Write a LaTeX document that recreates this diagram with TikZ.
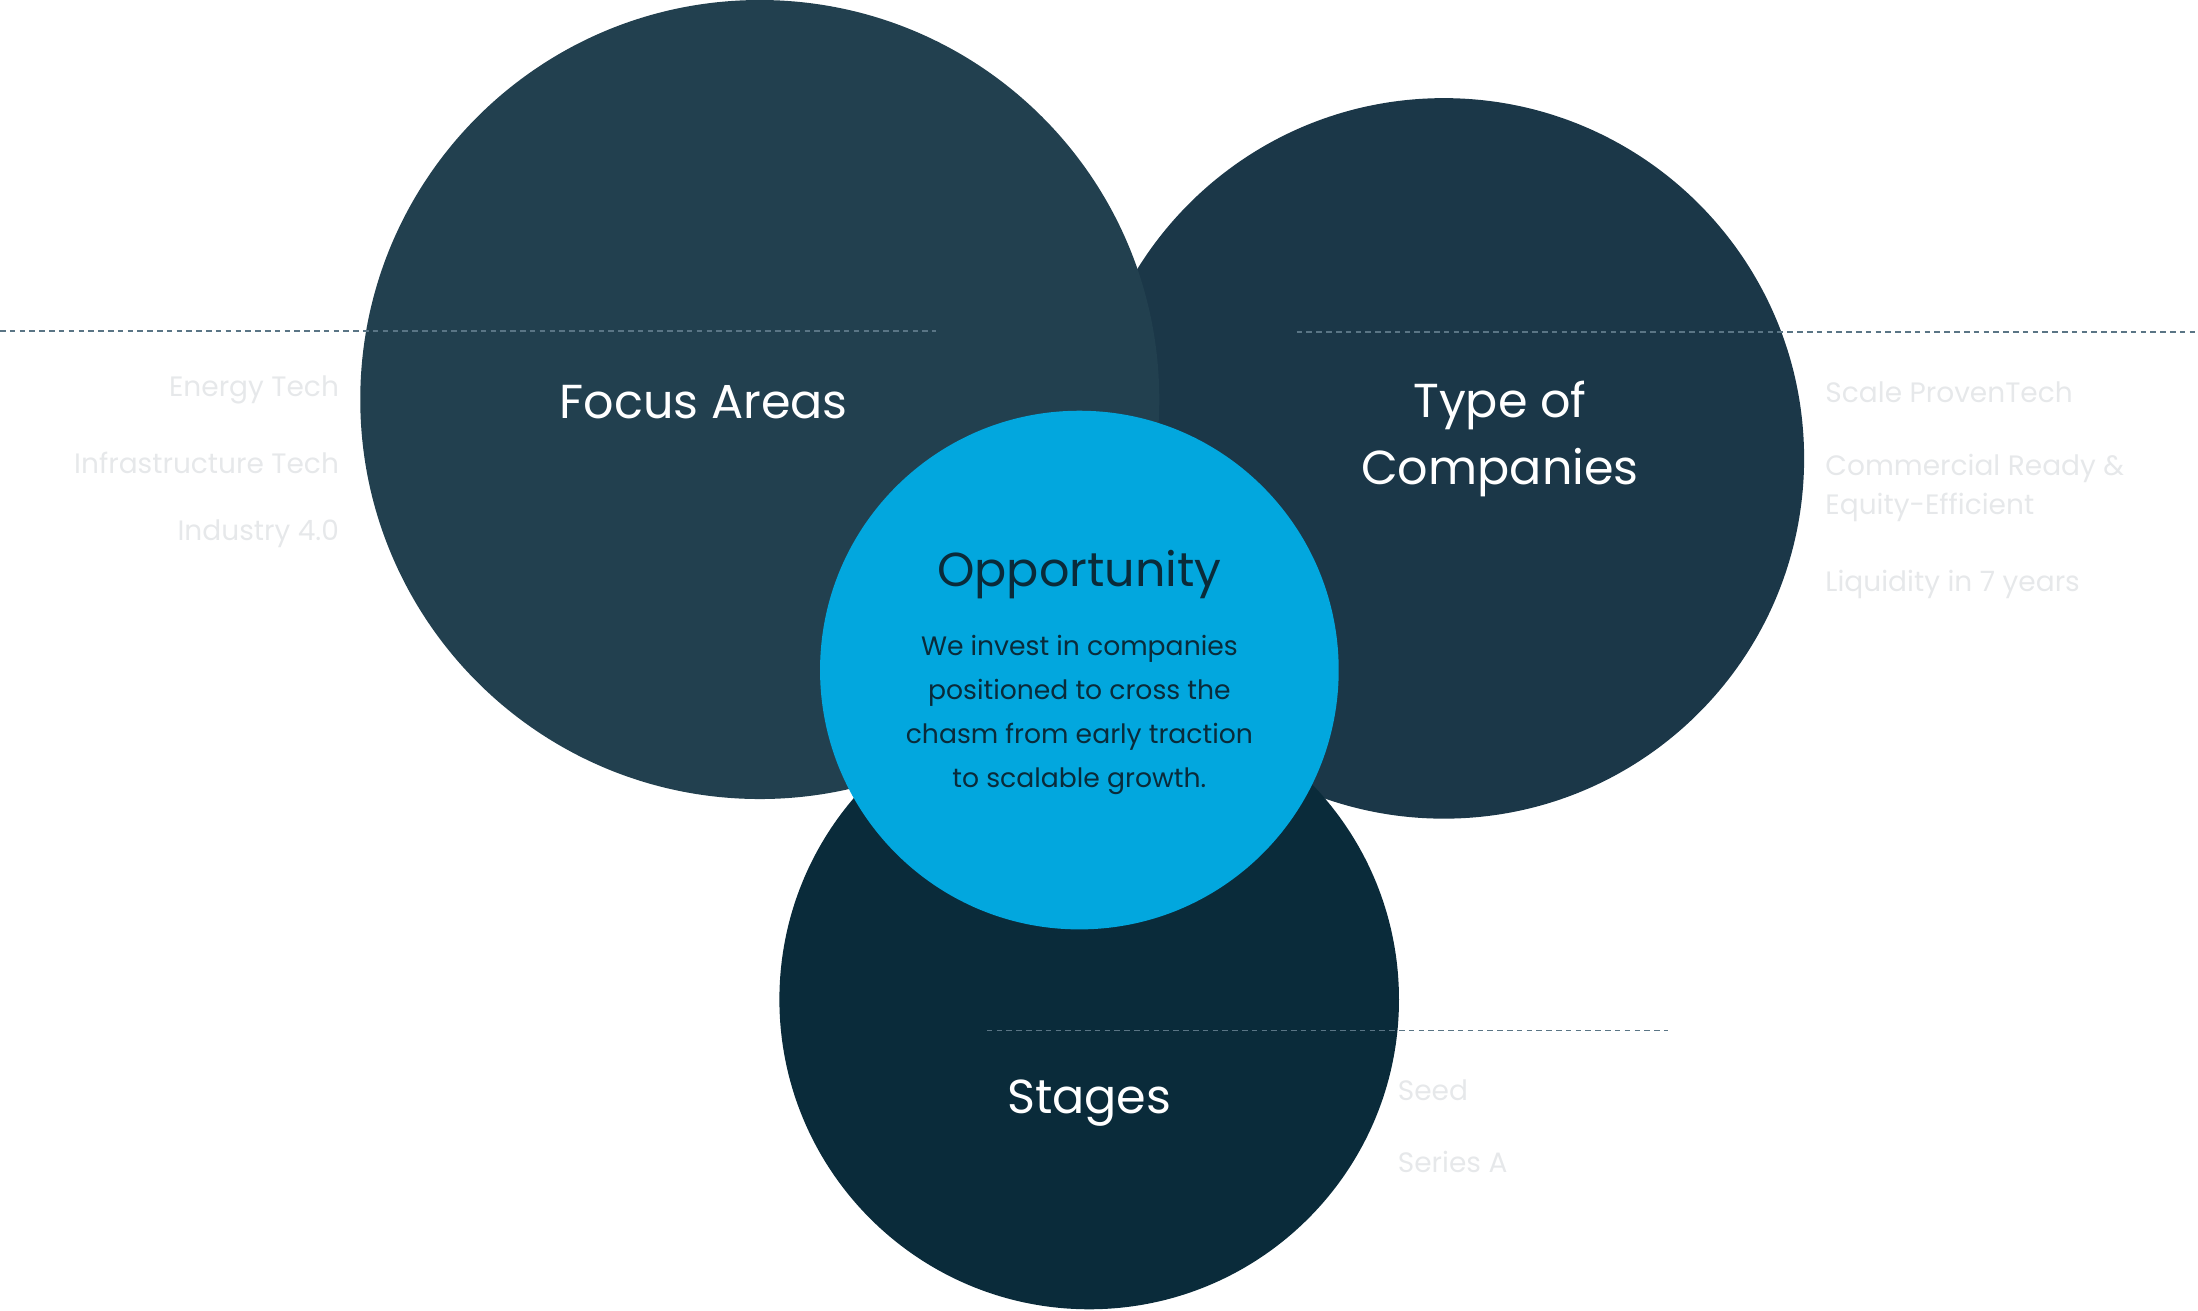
\documentclass[tikz,border=0pt]{standalone}
\usepackage{fontspec}
\setmainfont{Poppins}
\definecolor{cfocus}{HTML}{22404F}
\definecolor{ctype}{HTML}{1B3748}
\definecolor{cstage}{HTML}{0A2B3A}
\definecolor{copp}{HTML}{02A7DE}
\definecolor{cdash}{HTML}{5A7585}
\definecolor{clight}{HTML}{E6E8EA}
\begin{document}
\begin{tikzpicture}[x=1pt,y=-1pt,
  big/.style={text=white,font=\fontsize{34}{48}\selectfont,align=center},
  item/.style={text=clight,font=\fontsize{20}{30}\selectfont,inner sep=0pt},
  dashln/.style={cdash,line width=1.1pt,dash pattern=on 4pt off 3pt}]
\useasboundingbox (0,0) rectangle (1568,935);
\fill[ctype] (1030,327) circle (257);
\fill[cfocus] (542,285) circle (285);
\fill[cstage] (777,713) circle (221);
\fill[copp] (770,478) circle (185);
\coordinate (d1a) at (0,236); \coordinate (d1b) at (668,236);
\coordinate (d2a) at (925,237); \coordinate (d2b) at (1568,237);
\coordinate (d3a) at (704,735); \coordinate (d3b) at (1190,735);
\draw[dashln] (d1a) -- (d1b);
\draw[dashln] (d2a) -- (d2b);
\draw[dashln] (d3a) -- (d3b);
\node[big] (focus) at (502,287) {Focus Areas};
\node[big] (type) at (1070,313) {Type of\\Companies};
\node[big] (stages) at (777,787) {Stages};
\node[text=cstage,font=\fontsize{34}{40}\selectfont] (opp) at (770,410) {Opportunity};
\node[text=cstage,font=\fontsize{19}{31.3}\selectfont,align=center] (body) at (770,510)
 {We invest in companies\\positioned to cross the\\chasm from early traction\\to scalable growth.};
\node[item,anchor=east] (e1) at (242,278) {Energy Tech};
\node[item,anchor=east] (e2) at (242,330) {Infrastructure Tech};
\node[item,anchor=east] (e3) at (242,381) {Industry 4.0};
\node[item,anchor=west] (t1) at (1302,280) {Scale ProvenTech};
\node[item,anchor=west,align=left] (t2) at (1302,348) {Commercial Ready \&\\[-2pt]Equity-Efficient};
\node[item,anchor=west] (t3) at (1302,417) {Liquidity in 7 years};
\node[item,anchor=west] (s1) at (997,778) {Seed};
\node[item,anchor=west] (s2) at (997,829) {Series A};
\end{tikzpicture}
\end{document}
